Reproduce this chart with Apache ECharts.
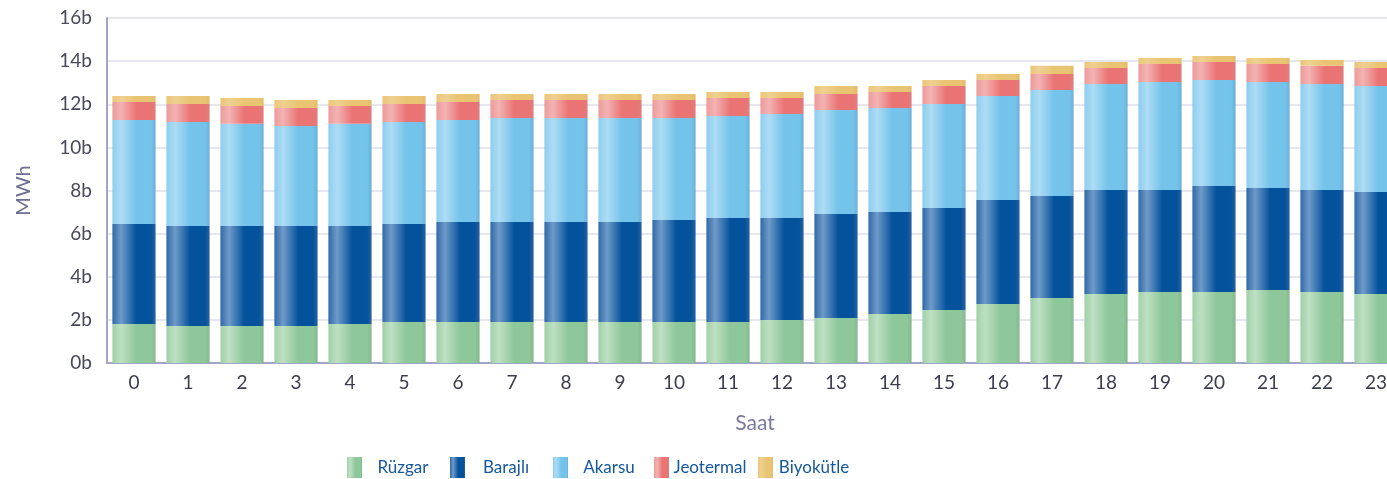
<!DOCTYPE html>
<html>
<head>
<meta charset="utf-8">
<script src="https://cdn.jsdelivr.net/npm/echarts@6/dist/echarts.min.js"></script>
<style>
  html, body { margin: 0; padding: 0; background: #fff; }
  #chart { width: 1387px; height: 479px; }
</style>
</head>
<body>
<div id="chart"></div>
<script>
const hours = ['0','1','2','3','4','5','6','7','8','9','10','11','12','13','14','15','16','17','18','19','20','21','22','23']

// values in billions of MWh
const ruzgar = [1.81,1.72,1.72,1.72,1.81,1.90,1.90,1.90,1.90,1.90,1.90,1.90,1.99,2.09,2.27,2.46,2.74,3.01,3.20,3.29,3.29,3.39,3.29,3.20]
const barajli = [4.64,4.63,4.63,4.63,4.54,4.55,4.64,4.64,4.64,4.64,4.73,4.83,4.74,4.82,4.73,4.73,4.82,4.74,4.82,4.73,4.92,4.73,4.73,4.73]
const akarsu = [4.82,4.83,4.74,4.64,4.74,4.73,4.73,4.82,4.82,4.82,4.73,4.73,4.82,4.82,4.83,4.82,4.82,4.91,4.92,5.01,4.92,4.91,4.92,4.92]
const jeotermal = [0.83,0.83,0.83,0.84,0.83,0.83,0.83,0.84,0.84,0.84,0.84,0.83,0.74,0.75,0.74,0.84,0.75,0.74,0.74,0.84,0.83,0.84,0.84,0.83]
const biyokutle = [0.28,0.37,0.37,0.37,0.28,0.37,0.38,0.28,0.28,0.28,0.28,0.28,0.28,0.37,0.28,0.28,0.27,0.38,0.28,0.28,0.28,0.28,0.27,0.28]

const FONT = 'Lato, "Open Sans", sans-serif'

// horizontal "cylinder" shading like the original bars
const grad = (edge, hi, main, dark) => new echarts.graphic.LinearGradient(0, 0, 1, 0, [
  { offset: 0, color: edge },
  { offset: 0.2, color: hi },
  { offset: 0.55, color: main },
  { offset: 0.9, color: main },
  { offset: 1, color: dark }
])

const colors = {
  'Rüzgar': grad('#9fd0a8', '#bfe0c3', '#8ec79a', '#85b790'),
  'Barajlı': grad('#2f69a8', '#6f9bc8', '#05529c', '#2a62a0'),
  'Akarsu': grad('#8ccdf0', '#aedcf4', '#74c3ea', '#6caed4'),
  'Jeotermal': grad('#ee9a9a', '#f3b3b3', '#ea7474', '#df7e7e'),
  'Biyokütle': grad('#ebc578', '#efd092', '#e9c472', '#e2bc6a')
}

const seriesData = [
  ['Rüzgar', ruzgar],
  ['Barajlı', barajli],
  ['Akarsu', akarsu],
  ['Jeotermal', jeotermal],
  ['Biyokütle', biyokutle]
]

// one legend per item so every entry gets the same slot width
const legendLeft = [342, 445, 548, 649, 753]

const option = {
  animation: false,
  // plot runs a bit past the right edge of the canvas, like the original
  grid: { left: 107, width: 1296, top: 18, bottom: 116, outerBoundsMode: 'none' },
  legend: seriesData.map(([name], i) => ({
    left: legendLeft[i],
    top: 452,
    itemWidth: 15,
    itemHeight: 21,
    icon: 'rect',
    formatter: '{n|{name}}',
    textStyle: {
      rich: { n: { width: 72, align: 'center', fontSize: 17, color: '#13579f', fontFamily: FONT } }
    },
    data: [name]
  })),
  xAxis: {
    type: 'category',
    data: hours,
    name: 'Saat',
    nameLocation: 'middle',
    nameGap: 50,
    nameTextStyle: { color: '#7a7a9e', fontSize: 21, fontFamily: FONT },
    axisLine: { lineStyle: { color: '#a4a4c4', width: 2 } },
    axisTick: { show: false },
    axisLabel: { color: '#3c3c50', fontSize: 19, margin: 10, fontFamily: FONT }
  },
  yAxis: {
    type: 'value',
    min: 0,
    max: 16,
    interval: 2,
    name: 'MWh',
    nameLocation: 'middle',
    nameGap: 73,
    nameTextStyle: { color: '#6e6e92', fontSize: 20, fontFamily: FONT },
    axisLine: { show: true, lineStyle: { color: '#a4a4c4', width: 2 } },
    axisTick: { show: false },
    splitLine: { lineStyle: { color: '#e6e6ee', width: 2 } },
    axisLabel: { color: '#48485c', fontSize: 19, margin: 15, fontFamily: FONT, formatter: v => v + 'b' }
  },
  series: seriesData.map(([name, data]) => ({
    name,
    type: 'bar',
    stack: 'total',
    barWidth: '80%',
    itemStyle: { color: colors[name] },
    data
  }))
}

const chart = echarts.init(document.getElementById('chart'))
chart.setOption(option)
</script>
</body>
</html>
